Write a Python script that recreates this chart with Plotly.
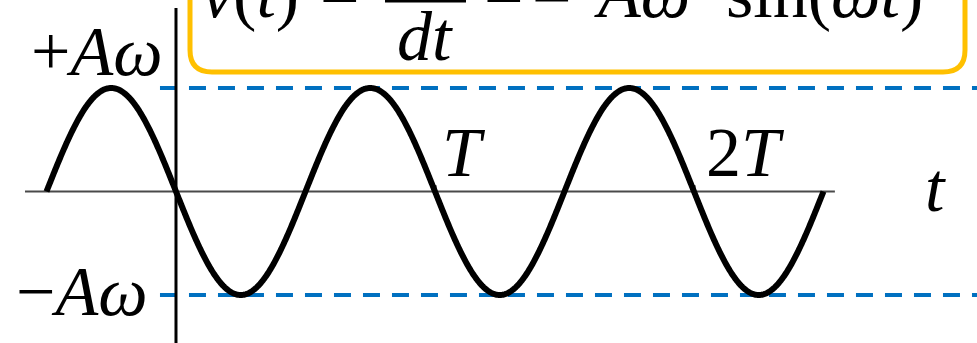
import numpy as np
import plotly.graph_objects as go

# Velocity of a harmonic oscillator, in units of T (time) and A*omega (velocity)
A_OMEGA = 1.0          # amplitude of v(t)
PERIOD = 1.0           # T
t_start, t_end = -0.5, 2.5
period_marks = [1.0, 2.0]
period_labels = ["<i>T</i>", "2<i>T</i>"]
level_values = [1.0, -1.0]
level_labels = ["+<i>Aω</i>", "−<i>Aω</i>"]

t = np.linspace(t_start * PERIOD, t_end * PERIOD, 1201)
v = -A_OMEGA * np.sin(2 * np.pi * t / PERIOD)

W, H = 977, 343
# axis ranges chosen so that t=0 sits on the vertical axis line
x_range = [-0.6795, 3.0927]
y_range = [-1.4638, 1.8502]

FONT = "Liberation Serif"
BLUE = "#0070C0"
ORANGE = "#FFC000"
LABEL_SIZE = 70
FORMULA_SIZE = 70


def px_x(p):
    return p / W


def px_y(p):
    return 1 - p / H


def label(x, y, text, size, xanchor="left"):
    fig.add_annotation(x=px_x(x), y=px_y(y), xref="paper", yref="paper",
                       text=text, showarrow=False, xanchor=xanchor, yanchor="bottom",
                       font=dict(family=FONT, size=size, color="black"))


fig = go.Figure()

# blue dashed reference levels at +/- A*omega
for lv in level_values:
    fig.add_trace(go.Scatter(
        x=[-0.0618, x_range[1]], y=[lv, lv], mode="lines",
        line=dict(color=BLUE, width=4, dash="17px,12px"),
        hoverinfo="skip", showlegend=False))

# time axis
fig.add_trace(go.Scatter(
    x=[-0.583, 2.544], y=[0, 0], mode="lines",
    line=dict(color="#4a4a4a", width=2), hoverinfo="skip", showlegend=False))

# velocity axis
fig.add_trace(go.Scatter(
    x=[0, 0], y=[1.773, y_range[0]], mode="lines",
    line=dict(color="black", width=3), hoverinfo="skip", showlegend=False))

# v(t) curve
fig.add_trace(go.Scatter(
    x=t, y=v, mode="lines", line=dict(color="black", width=6, simplify=False),
    hoverinfo="skip", showlegend=False))

# small ticks at T and 2T
for m in period_marks:
    fig.add_shape(type="line", xref="x", yref="y", x0=m, x1=m, y0=0, y1=0.06,
                  line=dict(color="black", width=3))

# level labels
label(165, 92, level_labels[0], LABEL_SIZE, "right")
label(150, 332, level_labels[1], LABEL_SIZE, "right")

# period labels
for lab, xl in zip(period_labels, [440, 704]):
    label(xl, 193, lab, LABEL_SIZE)

# time axis label
label(935, 228, "<i>t</i>", LABEL_SIZE, "center")

# formula box (rounded rectangle, top edge above the canvas)
L, R, B, TOP, r = 190, 965, 72, -40, 22
path = (f"M {px_x(L)} {px_y(TOP)} L {px_x(L)} {px_y(B - r)} "
        f"Q {px_x(L)} {px_y(B)} {px_x(L + r)} {px_y(B)} "
        f"L {px_x(R - r)} {px_y(B)} "
        f"Q {px_x(R)} {px_y(B)} {px_x(R)} {px_y(B - r)} "
        f"L {px_x(R)} {px_y(TOP)} Z")
fig.add_shape(type="path", xref="paper", yref="paper", path=path,
              line=dict(color=ORANGE, width=5), fillcolor="rgba(0,0,0,0)")

# formula: v(t) = dx/dt = -Aω sin(ωt)
base = 34
label(200, base, "<i>v</i>(<i>t</i>)", FORMULA_SIZE)
label(318, base, "=", FORMULA_SIZE)
label(425, -12, "<i>dx</i>", FORMULA_SIZE, "center")
fig.add_shape(type="line", xref="paper", yref="paper", x0=px_x(385), x1=px_x(466),
              y0=px_y(1), y1=px_y(1), line=dict(color="black", width=3))
label(425, 77, "<i>dt</i>", FORMULA_SIZE, "center")
label(482, base, "=", FORMULA_SIZE)
label(530, base + 6, "−", FORMULA_SIZE)
label(592, base, "<i>Aω</i>", FORMULA_SIZE)
label(724, base, "sin(<i>ωt</i>)", FORMULA_SIZE)

fig.update_xaxes(range=x_range, visible=False, fixedrange=True)
fig.update_yaxes(range=y_range, visible=False, fixedrange=True)
fig.update_layout(width=W, height=H, margin=dict(l=0, r=0, t=0, b=0),
                  paper_bgcolor="white", plot_bgcolor="white", showlegend=False)

fig.write_html("out.html", config={"displayModeBar": False})
